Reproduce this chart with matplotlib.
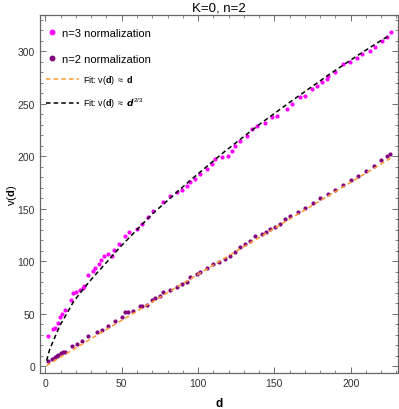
import matplotlib
matplotlib.use("Agg")
import matplotlib.pyplot as plt
from matplotlib.lines import Line2D

plt.rcParams["font.family"] = ["Liberation Sans", "DejaVu Sans"]
plt.rcParams["mathtext.fontset"] = "custom"
plt.rcParams["mathtext.rm"] = "Liberation Sans"
plt.rcParams["mathtext.bf"] = "Liberation Sans:bold"
plt.rcParams["mathtext.it"] = "Liberation Sans:italic"

# n=3 normalization (magenta)
d_n3 = [1.4, 4.7, 6.4, 8.2, 9.5, 11.0, 12.6, 16.7, 17.8, 19.8, 22.4, 24.4, 25.2, 28.0,
        31.3, 32.4, 35.3, 36.4, 38.3, 41.2, 43.4, 44.9, 48.4, 52.1, 54.9, 59.8, 63.0,
        67.4, 70.6, 77.2, 81.6, 86.0, 89.2, 92.5, 95.0, 98.0, 101.2, 105.6, 108.9, 111.0,
        115.5, 119.4, 122.0, 124.2, 127.5, 131.8, 135.1, 138.4, 143.8, 148.2, 151.5,
        158.0, 161.3, 166.8, 170.0, 174.4, 177.7, 181.0, 184.3, 185.3, 189.7, 195.1,
        199.5, 203.9, 207.2, 212.6, 215.9, 220.3, 223.6, 226.4]
v_n3 = [28.6, 35.5, 36.8, 41.0, 47.0, 50.0, 53.6, 63.4, 69.8, 70.8, 72.7, 74.3, 76.2, 87.0,
        91.0, 93.3, 97.4, 101.0, 105.0, 106.7, 105.3, 111.0, 116.5, 123.8, 127.6, 130.8, 135.5,
        141.9, 148.2, 156.2, 162.5, 166.3, 167.9, 172.0, 175.8, 178.4, 183.1, 187.9, 192.7, 197.4,
        199.6, 200.6, 205.3, 210.0, 214.9, 219.6, 226.0, 229.1, 231.7, 237.1, 238.7,
        245.0, 249.8, 256.2, 257.7, 264.1, 267.2, 270.5, 273.6, 276.8, 280.0, 287.9,
        289.5, 293.6, 297.4, 300.6, 303.8, 310.1, 313.3, 318.1]

# n=2 normalization (purple)
d_n2 = [1.4, 4.5, 6.2, 7.3, 8.4, 10.2, 11.7, 12.8, 17.2, 20.4, 23.7, 28.0, 33.5, 36.8,
        41.2, 45.5, 49.9, 52.1, 54.3, 57.5, 61.9, 63.0, 66.3, 69.6, 72.0, 75.0, 77.2, 81.6,
        86.0, 89.2, 92.5, 94.7, 99.1, 101.2, 105.6, 109.9, 113.5, 117.6, 120.9, 124.0, 127.4,
        130.5, 134.0, 137.3, 141.7, 144.5, 147.1, 150.5, 153.7, 157.0, 160.2, 165.6, 170.0,
        175.0, 180.0, 185.0, 190.0, 195.0, 200.0, 205.0, 210.0, 215.0, 220.0, 224.0, 226.0]
v_n2 = [5.3, 7.0, 8.6, 9.5, 10.8, 12.4, 13.3, 13.5, 19.0, 21.2, 24.4, 28.6, 32.4, 34.6,
        38.7, 43.4, 47.2, 51.4, 51.4, 53.0, 57.1, 57.7, 58.4, 63.4, 64.5, 67.2, 70.5, 73.0,
        75.2, 78.4, 80.0, 84.8, 87.9, 89.5, 93.3, 97.4, 99.5, 102.2, 105.3, 108.5, 113.3,
        116.0, 119.6, 124.4, 126.0, 128.0, 130.8, 133.0, 135.5, 140.0, 143.4, 147.2, 151.0,
        155.5, 160.0, 164.5, 168.0, 172.5, 177.0, 181.5, 186.0, 190.5, 196.0, 200.0, 202.0]

# fit lines
d_fit_lin = [0.8, 226.0]
v_fit_lin = [0.6, 198.0]
d_fit_23 = [0.8, 2.9, 6.2, 9.5, 13.9, 18.2, 24.8, 31.3, 40.1, 48.8, 70.0, 94.7, 117.0,
            140.6, 163.0, 186.4, 205.0, 221.4, 226.0]
v_fit_23 = [5.3, 16.5, 27.6, 38.7, 49.8, 60.9, 73.6, 84.8, 99.0, 113.3, 145.0, 176.8, 204.0,
            230.8, 254.5, 278.4, 296.5, 311.7, 315.5]

magenta = "#ff00ff"
purple = "#800080"
orange = "#ff9a33"

fig = plt.figure(figsize=(3.99, 4.10), dpi=100)
ax = fig.add_axes([0.100, 0.088, 0.8975, 0.873])

ax.scatter(d_n3, v_n3, s=9, color=magenta, linewidths=0, zorder=3)
ax.scatter(d_n2, v_n2, s=9, color=purple, linewidths=0, zorder=3)
ax.plot(d_fit_lin, v_fit_lin, color=orange, linestyle=(0, (3, 2)), linewidth=1.1, zorder=4)
ax.plot(d_fit_23, v_fit_23, color="black", linestyle=(0, (3, 2)), linewidth=1.1, zorder=4)

ax.set_xlim(-3.6, 231)
ax.set_ylim(-6.4, 334.6)
ax.set_xticks([0, 50, 100, 150, 200])
ax.set_yticks([0, 50, 100, 150, 200, 250, 300])
ax.set_xticks(range(0, 231, 10), minor=True)
ax.set_yticks(range(0, 331, 10), minor=True)
ax.tick_params(which="both", direction="in", top=True, right=True, color="#555555",
               labelsize=7.5, labelcolor="#333333")
ax.tick_params(which="major", length=4, width=0.6)
ax.tick_params(which="minor", length=2, width=0.5)
for sp in ax.spines.values():
    sp.set_color("#666666")
    sp.set_linewidth(0.9)

ax.set_title("K=0, n=2", fontsize=9.5, pad=3)
ax.set_xlabel("d", fontsize=8.5, fontweight="bold", labelpad=6.5)
ax.set_ylabel(r"v($\mathbf{d}$)", fontsize=8, labelpad=-1)

h1 = [Line2D([], [], marker="o", linestyle="none", markersize=3.2, color=magenta),
      Line2D([], [], marker="o", linestyle="none", markersize=3.2, color=purple)]
leg1 = ax.legend(h1, ["n=3 normalization", "n=2 normalization"], loc="upper left",
                 bbox_to_anchor=(0.0, 0.985), frameon=False, fontsize=8,
                 handlelength=0.8, handletextpad=0.5, labelspacing=1.4, borderaxespad=0.3)
ax.add_artist(leg1)
h2 = [Line2D([], [], color=orange, linestyle=(0, (3, 2)), linewidth=1.1),
      Line2D([], [], color="black", linestyle=(0, (3, 2)), linewidth=1.1)]
leg2 = ax.legend(h2, [r"Fit: v($\mathbf{d}$) $\approx$ $\mathbf{d}$",
                      r"Fit: v($\mathbf{d}$) $\approx$ $\boldsymbol{d}^{2/3}$"],
                 loc="upper left", bbox_to_anchor=(0.0, 0.855), frameon=False, fontsize=6.5,
                 handlelength=3.6, handletextpad=0.5, labelspacing=1.05, borderaxespad=0.3)

fig.savefig("out.png", dpi=100)
